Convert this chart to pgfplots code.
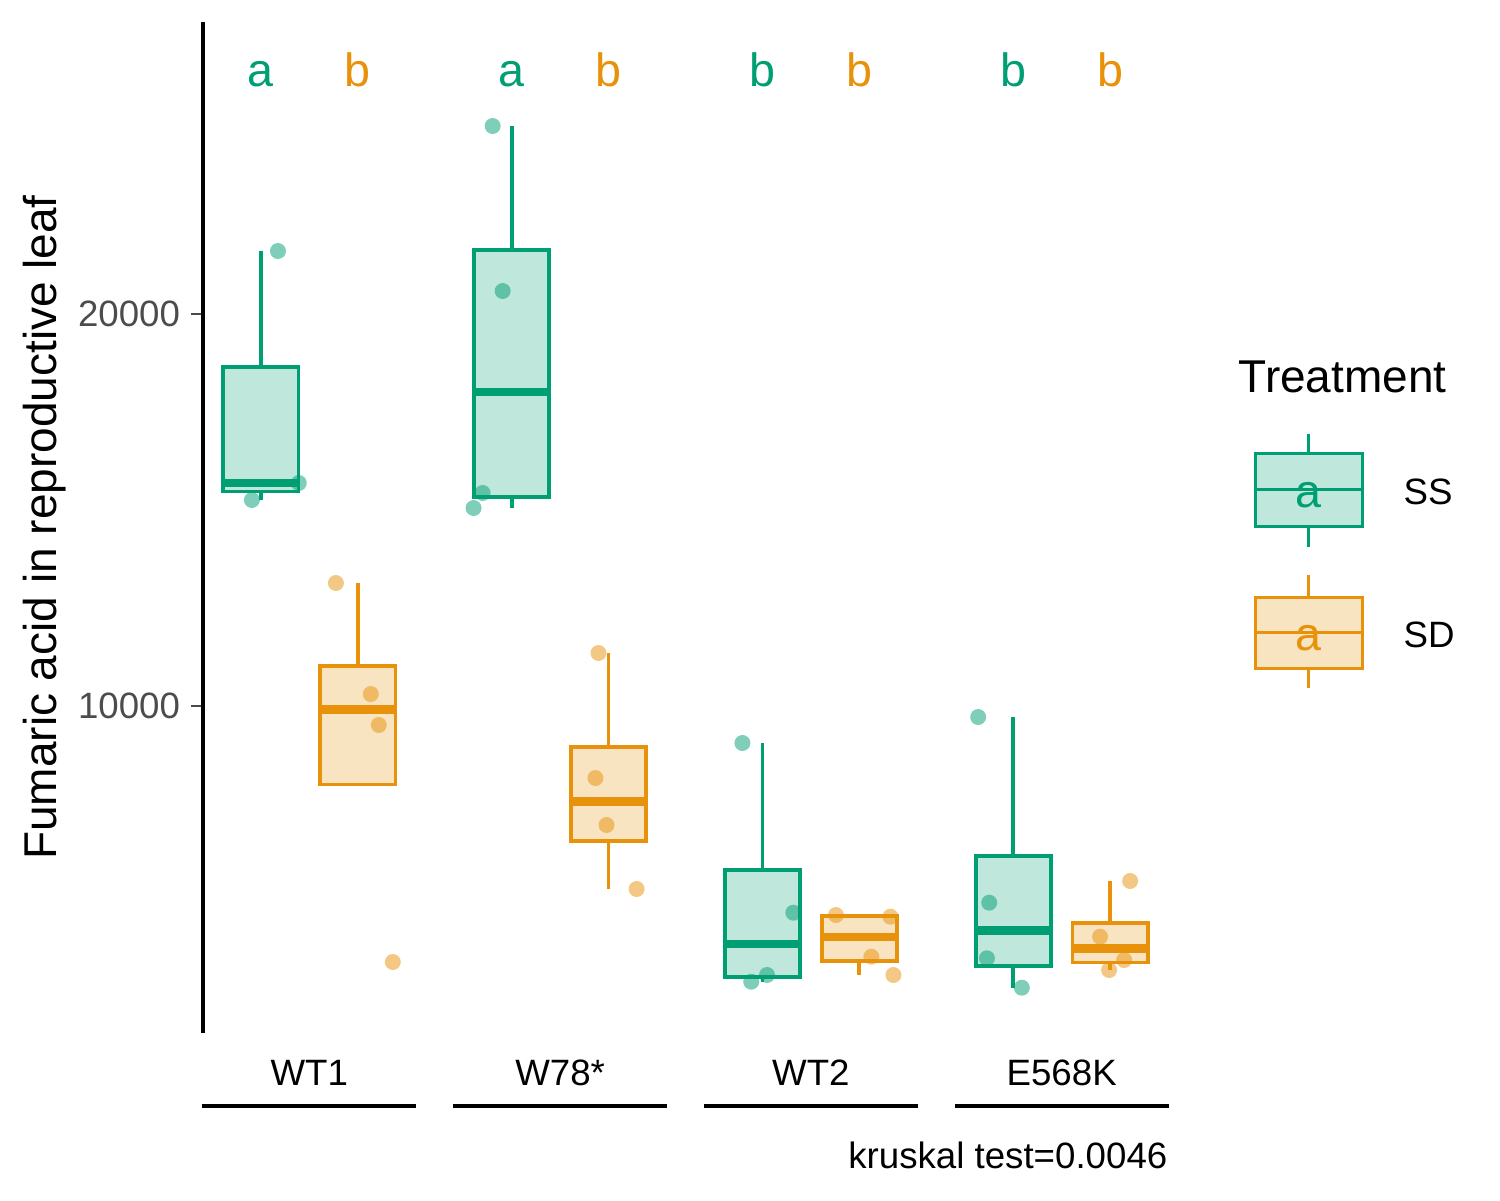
\documentclass[border=0pt]{standalone}
\usepackage{pgfplots}
\pgfplotsset{compat=1.18}
\usepgfplotslibrary{statistics}
\usepackage{fontspec}
\setmainfont{Liberation Sans}

\definecolor{ssg}{HTML}{009E73}
\definecolor{sdo}{HTML}{E8910A}

% SS = green, SD = orange; x = group index (WT1=0, W78*=1, WT2=2, E568K=3)
\pgfplotsset{
  ssbox/.style={draw=ssg, fill=ssg!25, line width=1.1pt, solid},
  sdbox/.style={draw=sdo, fill=sdo!25, line width=1.1pt, solid},
  sspts/.style={only marks, mark=*, mark size=2.4pt, color=ssg,
    mark options={draw opacity=0, fill=ssg, fill opacity=0.5}},
  sdpts/.style={only marks, mark=*, mark size=2.4pt, color=sdo,
    mark options={draw opacity=0, fill=sdo, fill opacity=0.5}},
}
\tikzset{
  sig/.style={anchor=base, inner sep=0pt, font=\fontsize{14}{16}\selectfont},
  lab/.style={anchor=base, inner sep=0pt, font=\fontsize{11}{13}\selectfont},
}

\begin{document}
\begin{tikzpicture}
\begin{axis}[
  name=ax,
  scale only axis,
  width=289.5pt, height=303.3pt,
  xmin=-0.424, xmax=3.424,
  ymin=1658, ymax=27449,
  clip=false,
  axis line style={draw=none},
  xtick=\empty,
  ytick={10000,20000},
  yticklabels={10000,20000},
  scaled y ticks=false,
  ytick pos=left,
  tick align=outside,
  major tick length=3.6pt,
  tick style={black!70, line width=0.6pt},
  yticklabel style={text=black!70, font=\fontsize{11}{13}\selectfont,
    inner sep=0pt, anchor=east, xshift=-3.1pt},
  ylabel={Fumaric acid in reproductive leaf},
  ylabel style={at={(axis description cs:-0.1640,0.5)}, anchor=center,
    font=\fontsize{13.8}{16}\selectfont, inner sep=0pt},
  boxplot/draw direction=y,
  boxplot/box extend=0.3,
  boxplot/whisker extend=0,
  boxplot/every median/.style={line width=2.5pt},
]

% ---- SS boxes
\addplot[ssbox, boxplot prepared={draw position=-0.193,
  lower whisker=15255, lower quartile=15472, median=15689,
  upper quartile=18648, upper whisker=21607}] coordinates {};
\addplot[ssbox, boxplot prepared={draw position=0.807,
  lower whisker=15051, lower quartile=15338, median=18010,
  upper quartile=21639, upper whisker=24796}] coordinates {};
\addplot[ssbox, boxplot prepared={draw position=1.807,
  lower whisker=2967, lower quartile=3095, median=3933,
  upper quartile=5809, upper whisker=9056}] coordinates {};
\addplot[ssbox, boxplot prepared={draw position=2.807,
  lower whisker=2814, lower quartile=3376, median=4273,
  upper quartile=6166, upper whisker=9719}] coordinates {};

% ---- SD boxes
\addplot[sdbox, boxplot prepared={draw position=0.193,
  lower whisker=7999, lower quartile=7999, median=9910,
  upper quartile=11014, upper whisker=13138}] coordinates {};
\addplot[sdbox, boxplot prepared={draw position=1.193,
  lower whisker=5332, lower quartile=6556, median=7564,
  upper quartile=8960, upper whisker=11352}] coordinates {};
\addplot[sdbox, boxplot prepared={draw position=2.193,
  lower whisker=3138, lower quartile=3488, median=4115,
  upper quartile=4636, upper whisker=4668}] coordinates {};
\addplot[sdbox, boxplot prepared={draw position=3.193,
  lower whisker=3265, lower quartile=3456, median=3818,
  upper quartile=4470, upper whisker=5536}] coordinates {};

% ---- jittered points
\addplot[sspts] coordinates {
  (-0.125,21607) (-0.042,15689) (-0.229,15255)
  (0.731,24796) (0.771,20587) (0.691,15434) (0.655,15051)
  (1.727,9056) (1.930,4727) (1.825,3138) (1.762,2967)
  (2.667,9719) (2.711,4982) (2.702,3564) (2.841,2814)
};
\addplot[sdpts] coordinates {
  (0.106,13138) (0.245,10306) (0.277,9515) (0.333,3469)
  (1.153,11352) (1.141,8163) (1.185,6964) (1.305,5332)
  (2.100,4668) (2.317,4625) (2.241,3605) (2.329,3138)
  (3.273,5536) (3.153,4115) (3.249,3520) (3.189,3265)
};

% ---- y axis line
\draw[line width=1.3pt] (rel axis cs:0,0) -- (rel axis cs:0,1);

% ---- significance letters
\node[sig, text=ssg] at (axis cs:-0.193,25791) {a};
\node[sig, text=ssg] at (axis cs:0.807,25791) {a};
\node[sig, text=ssg] at (axis cs:1.807,25791) {b};
\node[sig, text=ssg] at (axis cs:2.807,25791) {b};
\node[sig, text=sdo] at (axis cs:0.193,25791) {b};
\node[sig, text=sdo] at (axis cs:1.193,25791) {b};
\node[sig, text=sdo] at (axis cs:2.193,25791) {b};
\node[sig, text=sdo] at (axis cs:3.193,25791) {b};

% ---- group labels and brackets
\node[lab] at ([yshift=-15.6pt]axis cs:0,1658) {WT1};
\node[lab] at ([yshift=-15.6pt]axis cs:1,1658) {W78*};
\node[lab] at ([yshift=-15.6pt]axis cs:2,1658) {WT2};
\node[lab] at ([yshift=-15.6pt]axis cs:3,1658) {E568K};
\draw[line width=1.1pt] ([yshift=-21.9pt]axis cs:-0.426,1658) -- ([yshift=-21.9pt]axis cs:0.426,1658);
\draw[line width=1.1pt] ([yshift=-21.9pt]axis cs:0.574,1658) -- ([yshift=-21.9pt]axis cs:1.426,1658);
\draw[line width=1.1pt] ([yshift=-21.9pt]axis cs:1.574,1658) -- ([yshift=-21.9pt]axis cs:2.426,1658);
\draw[line width=1.1pt] ([yshift=-21.9pt]axis cs:2.574,1658) -- ([yshift=-21.9pt]axis cs:3.426,1658);
\node[lab, anchor=base east] at ([yshift=-40.5pt]axis cs:3.424,1658) {kruskal test=0.0046};
\end{axis}

% ---- legend, in reference pixel units
\begin{scope}[shift={(ax.south west)}, x=0.3pt, y=-0.3pt, shift={(-203,-1033)}]
  \node[anchor=base west, inner sep=0pt, font=\fontsize{13.8}{16}\selectfont]
    at (1238,393) {Treatment};
  % SS
  \draw[ssg, line width=0.9pt] (1308,434) -- (1308,454) (1308,527) -- (1308,547);
  \draw[ssg, fill=ssg!25, line width=0.9pt] (1255,454) rectangle (1362,527);
  \draw[ssg, line width=0.9pt] (1255,490) -- (1362,490);
  \node[sig, text=ssg] at (1308,508) {a};
  \node[lab, anchor=base west] at (1403,505) {SS};
  % SD
  \draw[sdo, line width=0.9pt] (1308,575) -- (1308,597) (1308,668) -- (1308,688);
  \draw[sdo, fill=sdo!25, line width=0.9pt] (1255,597) rectangle (1362,668);
  \draw[sdo, line width=0.9pt] (1255,632) -- (1362,632);
  \node[sig, text=sdo] at (1308,650) {a};
  \node[lab, anchor=base west] at (1403,647) {SD};
  \pgfresetboundingbox
  \path[use as bounding box] (0,0) rectangle (1500,1200);
\end{scope}
\end{tikzpicture}
\end{document}
